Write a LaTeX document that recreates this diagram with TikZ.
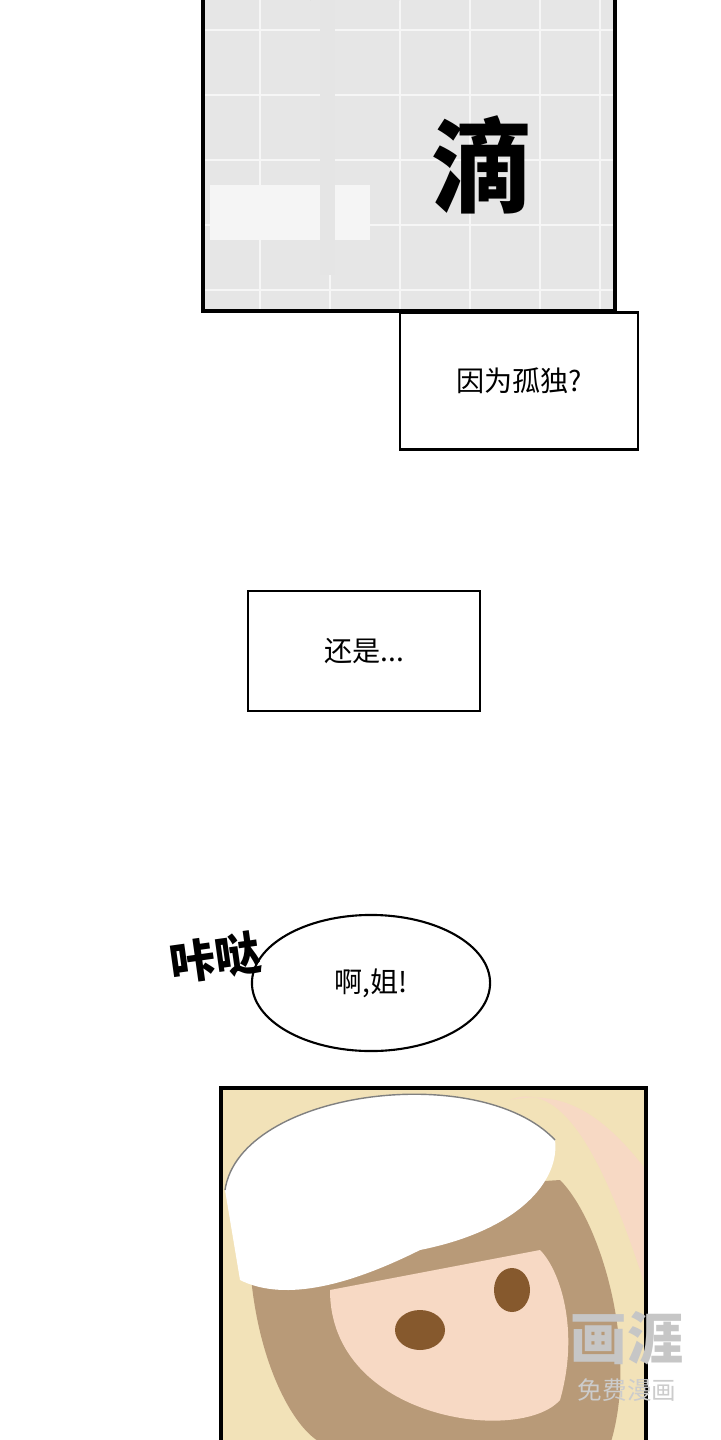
\documentclass[tikz,border=0pt]{standalone}
\usepackage{fontspec}
\setmainfont{Noto Sans CJK SC}
\newfontfamily\cjk{Noto Sans CJK SC}
\usetikzlibrary{positioning, shapes.geometric}
\definecolor{tile}{HTML}{E6E6E6}
\definecolor{tileline}{HTML}{F6F6F6}
\definecolor{wall}{HTML}{F2E2B8}
\definecolor{hair}{HTML}{B89A78}
\definecolor{skin}{HTML}{F7D9C4}
\begin{document}
\begin{tikzpicture}[
        x=0.01cm, y=-0.01cm,
        panel/.style={draw, line width=1.1pt},
        capbox/.style={draw, line width=0.6pt, inner sep=0pt, font=\cjk\fontsize{8}{9}\selectfont},
        sfx/.style={font=\cjk\bfseries, inner sep=0pt}
    ]
        \useasboundingbox (0,0) rectangle (720,1440);
        \fill[white] (0,0) rectangle (720,1440);

        % 上方浴室格
        \fill[tile] (203,-5) rectangle (615,311);
        \foreach \yy in {30,95,160,225,290}
            \draw[tileline, line width=0.6pt] (203,\yy) -- (615,\yy);
        \foreach \xx in {260,330,400,470,540,600}
            \draw[tileline, line width=0.6pt] (\xx,-5) -- (\xx,311);
        \fill[white!96!black] (210,185) rectangle (370,240);
        \fill[white!90!black] (320,0) rectangle (335,275);
        \draw[gray!60, line width=0.4pt] (310,0) arc (180:360:45 and 50);
        \node[sfx, font=\cjk\bfseries\fontsize{29}{30}\selectfont] (drip) at (482,165) {滴};
        \draw[panel] (203,-5) -- (203,311) -- (615,311) -- (615,-5);

        % 旁白框
        \node[capbox, minimum width=2.38cm, minimum height=1.37cm] (q1) at (519,381) {因为孤独?};
        \node[capbox, minimum width=2.31cm, minimum height=1.2cm] (q2) at (364,651) {还是...};

        % 对话气泡
        \node[ellipse, draw, line width=0.6pt, minimum width=2.38cm,
              minimum height=1.36cm, inner sep=0pt, font=\cjk\fontsize{8}{9}\selectfont]
              (say) at (371,983) {啊,姐!};
        \node[sfx, rotate=8, font=\cjk\bfseries\fontsize{13}{15}\selectfont] (click) at (215,958) {咔哒};

        % 下方人物格
        \fill[wall] (221,1088) rectangle (646,1445);
        \fill[hair] (250,1200) .. controls (240,1350) and (300,1445) .. (330,1445)
            -- (610,1445) .. controls (640,1350) and (600,1220) .. (560,1180) -- cycle;
        \fill[skin] (330,1290) .. controls (330,1420) and (520,1445) .. (560,1400)
            .. controls (580,1330) and (560,1270) .. (540,1250) -- cycle;
        \fill[white] (225,1190) .. controls (240,1090) and (480,1060) .. (555,1140)
            .. controls (560,1180) and (520,1230) .. (420,1250)
            .. controls (340,1290) and (280,1300) .. (240,1280) -- cycle;
        \draw[gray, line width=0.4pt] (225,1190) .. controls (240,1090) and (480,1060) .. (555,1140);
        \fill[skin] (510,1100) .. controls (560,1080) and (600,1150) .. (640,1270)
            -- (646,1290) -- (646,1170) .. controls (600,1110) and (560,1090) .. (510,1100);
        \fill[brown!70!black] (420,1330) ellipse (25 and 20);
        \fill[brown!70!black] (512,1290) ellipse (18 and 22);
        \draw[panel] (221,1445) -- (221,1088) -- (646,1088) -- (646,1445);

        % 水印
        \node[text=gray!45, font=\cjk\bfseries\fontsize{16}{18}\selectfont] (mark) at (627,1338) {画涯};
        \node[text=gray!40, font=\cjk\fontsize{7}{8}\selectfont] (mark2) at (627,1390) {免费漫画};

    \end{tikzpicture}
\end{document}
